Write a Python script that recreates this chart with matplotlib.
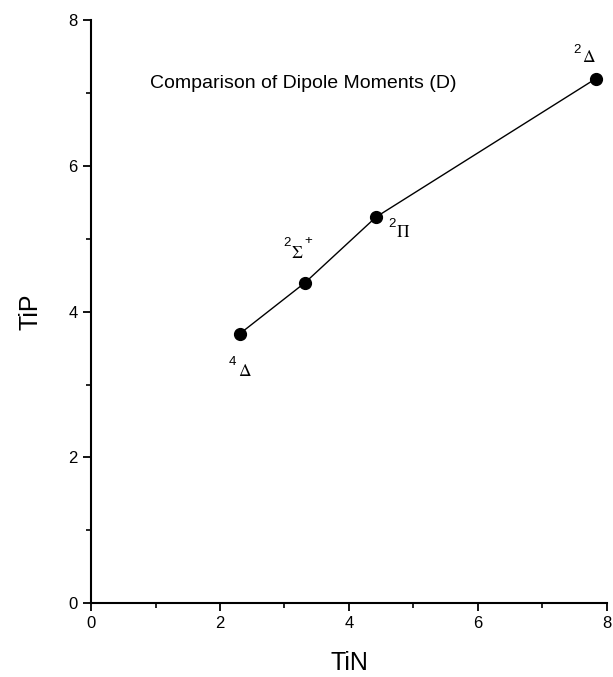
import matplotlib
matplotlib.use("Agg")
import matplotlib.pyplot as plt
from matplotlib.ticker import MultipleLocator

plt.rcParams['font.family'] = ['Liberation Sans', 'DejaVu Sans']
plt.rcParams['mathtext.fontset'] = 'stix'

# dipole moments (D)
tin = [2.31, 3.32, 4.42, 7.83]
tip = [3.70, 4.40, 5.30, 7.20]
spin = ['4', '2', '2', '2']
symbol = [r'$\Delta$', r'$\Sigma$', r'$\Pi$', r'$\Delta$']
sign = ['', '+', '', '']
# label offsets in pixels from the point: (digit, symbol, sign)
digit_off = [(-11, -28), (-22, 40), (12, -7), (-23, 29)]
symbol_off = [(-2, -37), (-14, 30), (20, -15), (-14, 22)]
sign_off = [(0, 0), (-1, 42), (0, 0), (0, 0)]

fig = plt.figure(figsize=(6.13, 6.77), dpi=100)
ax = fig.add_axes([0.1485, 0.109, 0.8415, 0.861])

ax.plot(tin, tip, color='black', lw=1.0, marker='o', ms=8.5, mfc='black', mec='black')

pt = 72 / fig.dpi
for i in range(len(tin)):
    xy = (tin[i], tip[i])
    dx, dy = digit_off[i]
    ax.annotate(spin[i], xy, xytext=(dx * pt, dy * pt), textcoords='offset points',
                fontsize=9.5, ha='left', va='center')
    dx, dy = symbol_off[i]
    ax.annotate(symbol[i], xy, xytext=(dx * pt, dy * pt), textcoords='offset points',
                fontsize=12.5, ha='left', va='center')
    if sign[i]:
        dx, dy = sign_off[i]
        ax.annotate(sign[i], xy, xytext=(dx * pt, dy * pt), textcoords='offset points',
                    fontsize=9.5, ha='left', va='center')

ax.text(0.114, 0.892, 'Comparison of Dipole Moments (D)', transform=ax.transAxes,
        fontsize=14, ha='left', va='center')

ax.set_xlim(0, 8)
ax.set_ylim(0, 8)
ax.xaxis.set_major_locator(MultipleLocator(2))
ax.xaxis.set_minor_locator(MultipleLocator(1))
ax.yaxis.set_major_locator(MultipleLocator(2))
ax.yaxis.set_minor_locator(MultipleLocator(1))

for side in ['top', 'right']:
    ax.spines[side].set_visible(False)
for side in ['left', 'bottom']:
    ax.spines[side].set_linewidth(1.5)

ax.tick_params(which='major', direction='out', length=6, width=1.3, labelsize=12)
ax.tick_params(which='minor', direction='out', length=3.5, width=1.2)

ax.set_xlabel('TiN', fontsize=18, labelpad=14)
ax.set_ylabel('TiP', fontsize=18, labelpad=19)

fig.savefig('out.png', dpi=100)
